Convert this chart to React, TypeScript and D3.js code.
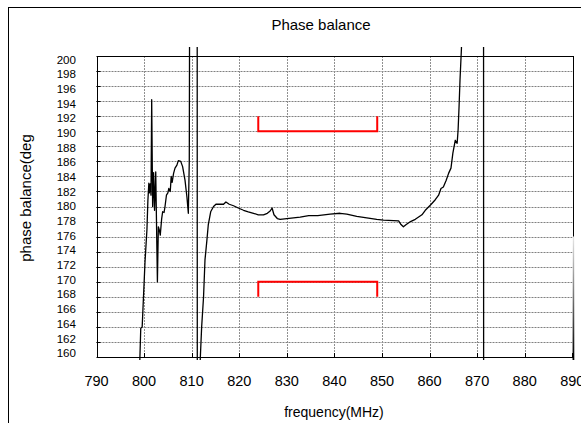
import React from 'react';
import * as d3 from 'd3';

const freq = [
  790.0, 798.5, 798.9, 799.3, 799.6, 800.2, 800.6, 800.8, 801.0, 801.1, 801.3, 801.45, 801.6, 801.8,
  802.0, 802.2, 802.45, 802.8, 803.0, 803.2, 803.4, 803.7, 803.9, 804.2, 804.4, 804.7, 805.0, 805.2,
  805.5, 805.7, 805.9, 806.2, 806.5, 806.9, 807.2, 807.7, 808.1, 808.6, 809.0, 809.3, 809.5, 809.6,
  810.0, 810.6, 811.15, 811.2, 811.7, 811.8, 812.1, 812.5, 812.8, 813.2, 813.5, 814.0, 814.6, 815.1,
  816.0, 816.7, 817.2, 817.9, 818.8, 819.8, 820.9, 821.9, 823.0, 824.0, 825.1, 825.9, 826.5, 826.9,
  827.3, 828.0, 828.6, 830.0, 831.4, 832.8, 834.6, 836.5, 839.1, 841.2, 842.6, 844.7, 846.8, 848.9,
  850.3, 853.5, 854.0, 854.5, 855.1, 856.0, 857.0, 858.4, 859.1, 860.2, 861.2, 861.9, 862.4, 862.9,
  863.5, 864.0, 864.5, 864.9, 865.4, 865.8, 866.0, 866.2, 866.4, 866.7, 867.0, 868.5, 871.33, 871.38,
  880.0, 890.0, 890.25, 890.4,
];
const phase = [
  120, 125, 155, 163.8, 164.0, 172.7, 176.9, 180.8, 183.1, 181.8, 183.0, 181.5, 194.2, 180.0,
  184.5, 179.5, 184.6, 170.0, 177.3, 176.9, 176.2, 178.4, 179.3, 179.2, 180.0, 181.5, 181.8, 182.4,
  182.0, 184.0, 183.2, 184.4, 185.1, 185.5, 186.1, 186.0, 185.3, 183.5, 181.3, 179.1, 186.0, 215,
  230, 240, 235, 120, 155, 159.6, 164.0, 168.0, 172.9, 175.5, 177.6, 179.3, 180.0, 180.3,
  180.3, 180.3, 180.6, 180.3, 180.1, 179.8, 179.5, 179.3, 179.1, 178.9, 178.9, 179.1, 179.4, 179.8,
  178.9, 178.4, 178.3, 178.4, 178.5, 178.6, 178.8, 178.8, 179.0, 179.1, 179.0, 178.7, 178.5, 178.3,
  178.2, 178.1, 177.6, 177.3, 177.6, 178.0, 178.3, 178.9, 179.5, 180.2, 180.9, 181.5, 182.4, 182.6,
  183.5, 184.4, 185.1, 187.1, 188.8, 188.4, 190.2, 193.3, 196.8, 201, 210, 240, 250, 120,
  110, 110, 176, 110,
];

const yTicks = d3.range(160, 201, 2);
const xTicks = d3.range(790, 891, 10);
const bandFreqs = [824, 849];
const upperLimit = [190, 192];
const lowerLimit = [170, 168];

const FONT = "'Liberation Sans', Arial, sans-serif";

export default function App() {
  const W = 581, H = 423;
  const left = 96.5, right = 572.3, top = 56, bottom = 357;
  const x = d3.scaleLinear().domain([790, 890]).range([left, right]);
  const y = d3.scaleLinear().domain([160, 200]).range([bottom, top]);
  const yLab = d3.scaleLinear().domain([160, 200]).range([353, 59.5]);

  const pts: [number, number][] = freq.map((f, i) => [f, phase[i]]);
  const tailStart = freq.findIndex((f) => f >= 890);
  const mainPts = pts.slice(0, tailStart + 1);
  const tailPts = pts.slice(tailStart);
  const line = d3.line<[number, number]>().x((d) => x(d[0])).y((d) => y(d[1]));

  const bracket = (lim: number[]) =>
    `M${x(bandFreqs[0])},${y(lim[1])}V${y(lim[0])}H${x(bandFreqs[1])}V${y(lim[1])}`;

  return (
    <svg width={W} height={H} style={{ position: 'absolute', left: 0, top: 0, background: '#fff' }}>
      <defs>
        <clipPath id="plotClip">
          <rect x={left} y={47} width={right - left + 4} height={bottom - 47 + 3} />
        </clipPath>
        <linearGradient id="tailGrad" gradientUnits="userSpaceOnUse" x1={0} y1={236} x2={0} y2={357}>
          <stop offset="0" stopColor="#e8e8e8" />
          <stop offset="1" stopColor="#000" />
        </linearGradient>
      </defs>
      <rect x={0} y={0} width={W} height={H} fill="#fff" />
      <rect x={8.5} y={7.5} width={700} height={500} fill="none" stroke="#000" strokeWidth={1} />
      <text x={321} y={30} textAnchor="middle" fontFamily={FONT} fontSize={15}>Phase balance</text>

      {yTicks.filter((t) => t !== 160 && t !== 200).map((t) => (
        <line key={'hg' + t} x1={left} x2={right} y1={Math.round(y(t)) + 0.5} y2={Math.round(y(t)) + 0.5}
          stroke="#808080" strokeWidth={1} strokeDasharray="2,1" />
      ))}
      {xTicks.filter((t) => t !== 790 && t !== 890).map((t) => (
        <line key={'vg' + t} x1={Math.round(x(t)) + 0.5} x2={Math.round(x(t)) + 0.5} y1={top} y2={bottom}
          stroke="#909090" strokeWidth={1} strokeDasharray="2,1" />
      ))}
      {yTicks.map((t) => (
        <line key={'yt' + t} x1={left} x2={left + 4} y1={Math.round(y(t)) + 0.5} y2={Math.round(y(t)) + 0.5} stroke="#000" />
      ))}
      {xTicks.map((t) => (
        <line key={'xt' + t} x1={Math.round(x(t)) + 0.5} x2={Math.round(x(t)) + 0.5} y1={bottom} y2={bottom - 4} stroke="#000" />
      ))}
      <rect x={Math.round(left) + 0.5} y={top + 0.5} width={Math.round(right - left)} height={bottom - top}
        fill="none" stroke="#000" strokeWidth={1} />

      <g clipPath="url(#plotClip)">
        <path d={line(mainPts) || ''} fill="none" stroke="#000" strokeWidth={1.3} strokeLinejoin="round" />
        <path d={line(tailPts) || ''} fill="none" stroke="url(#tailGrad)" strokeWidth={1.3} />
      </g>

      <path d={bracket(upperLimit)} fill="none" stroke="#ff0000" strokeWidth={2} />
      <path d={bracket(lowerLimit)} fill="none" stroke="#ff0000" strokeWidth={2} />

      {yTicks.map((t) => (
        <text key={'yl' + t} x={76} y={yLab(t)} dy="0.36em" textAnchor="end"
          fontFamily="'Liberation Sans Narrow', 'Arial Narrow', 'Liberation Sans', sans-serif" fontSize={11.6}>{t}</text>
      ))}
      {xTicks.map((t) => (
        <text key={'xl' + t} x={x(t)} y={386} textAnchor="middle" fontFamily={FONT} fontSize={14.5}>{t}</text>
      ))}
      <text x={334} y={417} textAnchor="middle" fontFamily={FONT} fontSize={14}>frequency(MHz)</text>
      <text transform={`translate(31,198) rotate(-90)`} textAnchor="middle" fontFamily={FONT} fontSize={15}>phase balance(deg</text>
    </svg>
  );
}
